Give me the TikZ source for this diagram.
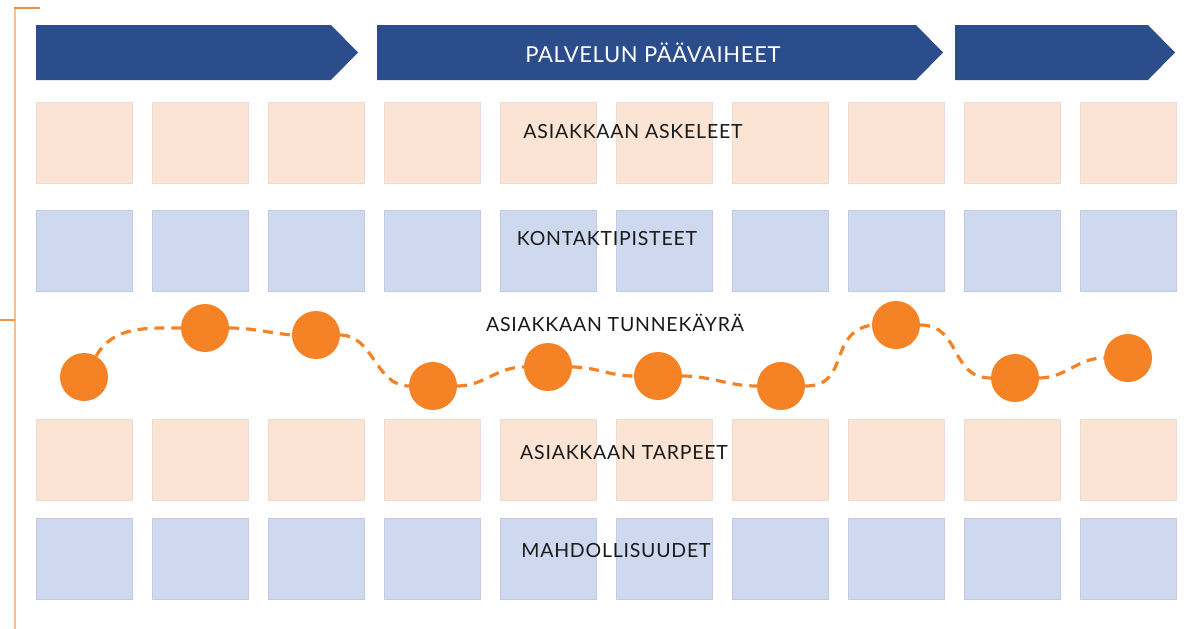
\documentclass[tikz,border=0pt]{standalone}
\usepackage{fontspec}
\setmainfont{Lato}
\newfontfamily\labelfont[LetterSpace=4]{Lato}
\newfontfamily\phasefont[LetterSpace=3]{Lato}
\definecolor{phaseblue}{HTML}{2C4D8B}
\definecolor{peach}{HTML}{FCE4D4}
\definecolor{peachedge}{HTML}{EEDDD2}
\definecolor{lightblue}{HTML}{CED8EF}
\definecolor{lightblueedge}{HTML}{C0CBE4}
\definecolor{emo}{HTML}{F58225}
\definecolor{bracketlight}{HTML}{F7C08C}
\definecolor{bracketdark}{HTML}{F58B3A}
\definecolor{labeltext}{HTML}{1A1A1A}
\begin{document}
\begin{tikzpicture}[x=1pt,y=-1pt,
  cell/.style={rectangle,minimum width=96pt,minimum height=81pt,inner sep=0pt,line width=0.6pt},
  peachcell/.style={cell,fill=peach,draw=peachedge},
  bluecell/.style={cell,fill=lightblue,draw=lightblueedge},
  rowlabel/.style={text=labeltext,font=\labelfont\fontsize{19.5}{22}\selectfont,inner sep=0pt},
  phaselabel/.style={text=white,font=\phasefont\fontsize{22}{24}\selectfont,inner sep=0pt},
  phase/.style={fill=phaseblue},
  mood/.style={circle,fill=emo,minimum size=48pt,inner sep=0pt},
  moodline/.style={draw=emo,line width=3.2pt,dash pattern=on 10pt off 7pt}
]
\useasboundingbox (0,0) rectangle (1192,629);

% bracket on the left edge
\draw[bracketlight,line width=1.5pt] (15,8) -- (15,629);
\draw[bracketdark,line width=1.5pt] (14.3,8) -- (40,8);
\draw[bracketdark!80!bracketlight,line width=1.5pt] (0,320) -- (15,320);

% phase arrows
\fill[phase] (36,25) -- (331,25) -- (358,52.5) -- (331,80) -- (36,80) -- cycle;
\fill[phase] (377,25) -- (916,25) -- (943,52.5) -- (916,80) -- (377,80) -- cycle;
\fill[phase] (955,25) -- (1148,25) -- (1175,52.5) -- (1148,80) -- (955,80) -- cycle;
\node[phaselabel] (phases) at (653,52.5) {PALVELUN PÄÄVAIHEET};

% grid of cells
\foreach \i in {1,...,10}{
  \pgfmathsetmacro{\cx}{84+116*(\i-1)}
  \node[peachcell] (steps-\i) at (\cx,142.5) {};
  \node[bluecell]  (touch-\i) at (\cx,250.5) {};
  \node[peachcell] (needs-\i) at (\cx,459.5) {};
  \node[bluecell]  (opps-\i)  at (\cx,558.5) {};
}

% row labels
\node[rowlabel] (lsteps) at (633,132) {ASIAKKAAN ASKELEET};
\node[rowlabel] (ltouch) at (607,239) {KONTAKTIPISTEET};
\node[rowlabel] (lcurve) at (615,323) {ASIAKKAAN TUNNEKÄYRÄ};
\node[rowlabel] (lneeds) at (624,453) {ASIAKKAAN TARPEET};
\node[rowlabel] (lopps)  at (616,551) {MAHDOLLISUUDET};

% emotion curve
\node[mood] (m1)  at (84,377)   {};
\node[mood] (m2)  at (205,328)  {};
\node[mood] (m3)  at (316,335)  {};
\node[mood] (m4)  at (433,386)  {};
\node[mood] (m5)  at (548,367)  {};
\node[mood] (m6)  at (658,376)  {};
\node[mood] (m7)  at (781,386)  {};
\node[mood] (m8)  at (896,325)  {};
\node[mood] (m9)  at (1015,378) {};
\node[mood] (m10) at (1128,358) {};

\draw[moodline] (m1.60) to[out=60,in=180] (m2.west);
\draw[moodline] (m2.east) to[out=0,in=175] (m3.west);
\draw[moodline] (m3.east) to[out=0,in=180] (m4.west);
\draw[moodline] (m4.east) to[out=0,in=180] (m5.west);
\draw[moodline] (m5.east) to[out=0,in=180] (m6.west);
\draw[moodline] (m6.east) to[out=0,in=180] (m7.west);
\draw[moodline] (m7.east) to[out=0,in=190,looseness=1.3] (m8.west);
\draw[moodline] (m8.east) to[out=0,in=180,looseness=1.2] (m9.west);
\draw[moodline] (m9.east) to[out=0,in=180] (m10.west);
\end{tikzpicture}
\end{document}
